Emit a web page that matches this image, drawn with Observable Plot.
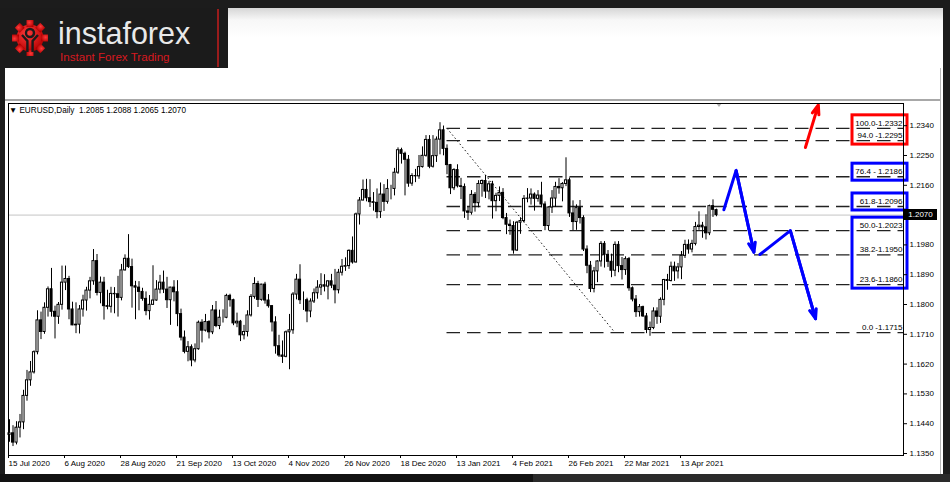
<!DOCTYPE html>
<html><head><meta charset="utf-8">
<script src="https://cdn.jsdelivr.net/npm/d3@7"></script>
<script src="https://cdn.jsdelivr.net/npm/@observablehq/plot@0.6"></script>
<style>
html,body{margin:0;padding:0;}
body{width:950px;height:482px;background:#1c1c1c;position:relative;overflow:hidden;font-family:"Liberation Sans",Arial,sans-serif;}
.abs{position:absolute;}
</style></head><body>
<div class="abs" style="left:0;top:8px;width:228px;height:60px;background:#1b1b1b"></div>
<div class="abs" style="left:217px;top:9px;width:2px;height:58px;background:#9a1c1c"></div>
<div class="abs" style="left:228px;top:8px;width:715px;height:60px;background:linear-gradient(#d6d6d6 0px,#f7f7f7 12px,#fff 30px)"></div>
<div class="abs" style="left:5px;top:68px;width:938px;height:406px;background:#fff"></div>
<div class="abs" style="left:940px;top:68px;width:1px;height:406px;background:#b8b8b8"></div>
<div class="abs" style="left:5px;top:99px;width:935px;height:2px;background:#a8a8a8"></div>
<div class="abs" style="left:0;top:474px;width:533px;height:8px;background:#121212"></div>
<div class="abs" style="left:533px;top:474px;width:417px;height:8px;background:#2a2a2a"></div>
<svg class="abs" style="left:10px;top:18px" width="40" height="40" viewBox="-20 -20 40 40">
  <defs><radialGradient id="gg" cx="40%" cy="35%" r="70%"><stop offset="0" stop-color="#ff3a3a"/><stop offset="1" stop-color="#b10000"/></radialGradient></defs>
  <g fill="url(#gg)">
    <circle r="13.5"/>
    <rect x="-3.5" y="-18" width="7" height="7"/>
    <rect x="-3.5" y="-18" width="7" height="7" transform="rotate(45)"/>
    <rect x="-3.5" y="-18" width="7" height="7" transform="rotate(90)"/>
    <rect x="-3.5" y="-18" width="7" height="7" transform="rotate(135)"/>
    <rect x="-3.5" y="-18" width="7" height="7" transform="rotate(180)"/>
    <rect x="-3.5" y="-18" width="7" height="7" transform="rotate(225)"/>
    <rect x="-3.5" y="-18" width="7" height="7" transform="rotate(270)"/>
    <rect x="-3.5" y="-18" width="7" height="7" transform="rotate(315)"/>
  </g>
  <circle cy="-5" r="4" fill="none" stroke="#1b1b1b" stroke-width="2.4"/>
  <path d="M-8,-3 L-2.6,3 L-2.6,14 M8,-3 L2.6,3 L2.6,14" stroke="#1b1b1b" stroke-width="2.4" fill="none"/>
</svg>
<svg class="abs" style="left:0;top:8px" width="215" height="60">
  <text x="58" y="36" fill="#e9e9e9" font-family="Liberation Sans, Arial, sans-serif" font-size="30.5">instaforex</text>
  <text x="60" y="53" fill="#d71920" font-family="Liberation Sans, Arial, sans-serif" font-size="11.6">Instant Forex Trading</text>
</svg>
<div class="abs" style="left:716px;top:103px;width:0;height:0;border-left:3px solid transparent;border-right:3px solid transparent;border-top:4px solid #b0b0b0"></div>
<div id="title" class="abs" style="left:9px;top:106px;font-size:8.2px;color:#000;white-space:pre;line-height:10px"></div>
<div id="chart"></div>
<div id="tag" class="abs" style="left:904px;width:33px;height:11px;background:#000;color:#fff;font-size:8px;line-height:11px;text-align:center"></div>
<script>
// ---------- data ----------
const dates = [
"2020-07-15","2020-07-16","2020-07-17","2020-07-20","2020-07-21","2020-07-22","2020-07-23","2020-07-24","2020-07-27","2020-07-28","2020-07-29","2020-07-30","2020-07-31",
"2020-08-03","2020-08-04","2020-08-05","2020-08-06","2020-08-07","2020-08-10","2020-08-11","2020-08-12","2020-08-13","2020-08-14","2020-08-17","2020-08-18","2020-08-19","2020-08-20","2020-08-21","2020-08-24","2020-08-25","2020-08-26","2020-08-27","2020-08-28","2020-08-31",
"2020-09-01","2020-09-02","2020-09-03","2020-09-04","2020-09-07","2020-09-08","2020-09-09","2020-09-10","2020-09-11","2020-09-14","2020-09-15","2020-09-16","2020-09-17","2020-09-18","2020-09-21","2020-09-22","2020-09-23","2020-09-24","2020-09-25","2020-09-28","2020-09-29","2020-09-30",
"2020-10-01","2020-10-02","2020-10-05","2020-10-06","2020-10-07","2020-10-08","2020-10-09","2020-10-12","2020-10-13","2020-10-14","2020-10-15","2020-10-16","2020-10-19","2020-10-20","2020-10-21","2020-10-22","2020-10-23","2020-10-26","2020-10-27","2020-10-28","2020-10-29","2020-10-30",
"2020-11-02","2020-11-03","2020-11-04","2020-11-05","2020-11-06","2020-11-09","2020-11-10","2020-11-11","2020-11-12","2020-11-13","2020-11-16","2020-11-17","2020-11-18","2020-11-19","2020-11-20","2020-11-23","2020-11-24","2020-11-25","2020-11-26","2020-11-27","2020-11-30",
"2020-12-01","2020-12-02","2020-12-03","2020-12-04","2020-12-07","2020-12-08","2020-12-09","2020-12-10","2020-12-11","2020-12-14","2020-12-15","2020-12-16","2020-12-17","2020-12-18","2020-12-21","2020-12-22","2020-12-23","2020-12-24","2020-12-28","2020-12-29","2020-12-30","2020-12-31",
"2021-01-04","2021-01-05","2021-01-06","2021-01-07","2021-01-08","2021-01-11","2021-01-12","2021-01-13","2021-01-14","2021-01-15","2021-01-18","2021-01-19","2021-01-20","2021-01-21","2021-01-22","2021-01-25","2021-01-26","2021-01-27","2021-01-28","2021-01-29",
"2021-02-01","2021-02-02","2021-02-03","2021-02-04","2021-02-05","2021-02-08","2021-02-09","2021-02-10","2021-02-11","2021-02-12","2021-02-15","2021-02-16","2021-02-17","2021-02-18","2021-02-19","2021-02-22","2021-02-23","2021-02-24","2021-02-25","2021-02-26",
"2021-03-01","2021-03-02","2021-03-03","2021-03-04","2021-03-05","2021-03-08","2021-03-09","2021-03-10","2021-03-11","2021-03-12","2021-03-15","2021-03-16","2021-03-17","2021-03-18","2021-03-19","2021-03-22","2021-03-23","2021-03-24","2021-03-25","2021-03-26","2021-03-29","2021-03-30","2021-03-31",
"2021-04-01","2021-04-02","2021-04-05","2021-04-06","2021-04-07","2021-04-08","2021-04-09","2021-04-12","2021-04-13","2021-04-14","2021-04-15","2021-04-16","2021-04-19","2021-04-20","2021-04-21","2021-04-22","2021-04-23","2021-04-26","2021-04-27"
];
const opens = [
1.1406,1.1411,1.1383,1.1428,1.1444,1.1524,1.1571,1.1595,1.1656,1.1752,1.1717,1.1790,1.1846,
1.1778,1.1763,1.1799,1.1866,1.1877,1.1785,1.1737,1.1739,1.1785,1.1812,1.1842,1.1870,1.1931,1.1835,1.1866,1.1795,1.1793,1.1832,1.1831,1.1820,1.1903,
1.1938,1.1913,1.1855,1.1851,1.1838,1.1817,1.1780,1.1799,1.1812,1.1845,1.1866,1.1845,1.1813,1.1851,1.1837,1.1771,1.1700,1.1657,1.1671,1.1631,1.1665,1.1745,
1.1721,1.1747,1.1716,1.1782,1.1735,1.1760,1.1760,1.1826,1.1813,1.1743,1.1748,1.1707,1.1717,1.1767,1.1823,1.1862,1.1814,1.1860,1.1812,1.1795,1.1746,1.1674,
1.1646,1.1642,1.1716,1.1722,1.1830,1.1875,1.1813,1.1813,1.1779,1.1809,1.1834,1.1851,1.1858,1.1854,1.1870,1.1857,1.1843,1.1896,1.1914,1.1916,1.1962,
1.1927,1.2072,1.2114,1.2146,1.2121,1.2109,1.2107,1.2079,1.2132,1.2110,1.2149,1.2149,1.2198,1.2266,1.2255,1.2237,1.2165,1.2188,1.2187,1.2215,1.2249,1.2297,
1.2216,1.2248,1.2298,1.2326,1.2270,1.2221,1.2151,1.2206,1.2157,1.2155,1.2081,1.2077,1.2131,1.2106,1.2164,1.2173,1.2141,1.2163,1.2112,1.2128,
1.2137,1.2061,1.2041,1.2037,1.1963,1.2047,1.2052,1.2119,1.2120,1.2132,1.2119,1.2129,1.2102,1.2037,1.2093,1.2120,1.2155,1.2151,1.2164,1.2175,
1.2075,1.2049,1.2091,1.2061,1.1966,1.1917,1.1847,1.1900,1.1930,1.1983,1.1950,1.1929,1.1902,1.1980,1.1916,1.1904,1.1937,1.1849,1.1815,1.1777,1.1792,1.1764,1.1723,
1.1729,1.1779,1.1763,1.1814,1.1874,1.1871,1.1914,1.1900,1.1912,1.1947,1.1980,1.1966,1.1983,1.2034,1.2038,1.2033,1.2015,1.2097,1.2085
];
const highs = [
1.1452,1.1434,1.1446,1.1468,1.1541,1.1601,1.1628,1.1660,1.1781,1.1777,1.1805,1.1853,1.1909,
1.1795,1.1806,1.1916,1.1916,1.1885,1.1807,1.1805,1.1797,1.1828,1.1852,1.1882,1.1966,1.1951,1.1883,1.1882,1.1843,1.1852,1.1851,1.1885,1.1921,1.1950,
1.2011,1.1937,1.1870,1.1869,1.1849,1.1838,1.1827,1.1917,1.1872,1.1888,1.1901,1.1882,1.1852,1.1872,1.1872,1.1786,1.1720,1.1688,1.1678,1.1681,1.1750,1.1754,
1.1770,1.1751,1.1797,1.1809,1.1783,1.1784,1.1831,1.1831,1.1816,1.1774,1.1752,1.1737,1.1781,1.1830,1.1881,1.1870,1.1861,1.1867,1.1830,1.1797,1.1763,1.1707,
1.1690,1.1720,1.1770,1.1836,1.1891,1.1920,1.1838,1.1819,1.1817,1.1847,1.1872,1.1893,1.1890,1.1871,1.1891,1.1906,1.1906,1.1936,1.1941,1.1965,1.2004,
1.2076,1.2123,1.2176,1.2178,1.2177,1.2138,1.2149,1.2167,1.2162,1.2177,1.2160,1.2211,1.2273,1.2272,1.2260,1.2250,1.2195,1.2208,1.2250,1.2276,1.2310,1.2310,
1.2310,1.2306,1.2349,1.2339,1.2282,1.2223,1.2210,1.2222,1.2181,1.2164,1.2094,1.2144,1.2138,1.2174,1.2176,1.2190,1.2172,1.2172,1.2136,1.2155,
1.2150,1.2075,1.2055,1.2050,1.2051,1.2062,1.2129,1.2150,1.2149,1.2137,1.2144,1.2169,1.2110,1.2095,1.2144,1.2169,1.2180,1.2168,1.2243,1.2182,
1.2113,1.2101,1.2114,1.2068,1.1977,1.1930,1.1912,1.1932,1.1990,1.1990,1.1963,1.1952,1.1989,1.1990,1.1942,1.1944,1.1942,1.1853,1.1827,1.1800,1.1795,1.1773,1.1747,
1.1790,1.1790,1.1820,1.1876,1.1891,1.1928,1.1928,1.1924,1.1960,1.1994,1.1995,1.1994,1.2048,1.2080,1.2048,1.2071,1.2100,1.2116,1.2088
];
const lows = [
1.1384,1.1371,1.1376,1.1397,1.1422,1.1508,1.1553,1.1590,1.1648,1.1694,1.1710,1.1762,1.1762,
1.1696,1.1740,1.1783,1.1842,1.1754,1.1736,1.1712,1.1711,1.1762,1.1780,1.1817,1.1858,1.1826,1.1802,1.1753,1.1784,1.1774,1.1772,1.1762,1.1811,1.1901,
1.1909,1.1789,1.1754,1.1781,1.1810,1.1766,1.1753,1.1798,1.1810,1.1832,1.1833,1.1788,1.1737,1.1808,1.1733,1.1690,1.1651,1.1627,1.1612,1.1624,1.1662,1.1684,
1.1717,1.1696,1.1709,1.1730,1.1724,1.1744,1.1757,1.1792,1.1736,1.1730,1.1688,1.1693,1.1702,1.1762,1.1816,1.1791,1.1810,1.1801,1.1789,1.1717,1.1650,1.1640,
1.1622,1.1639,1.1603,1.1710,1.1814,1.1800,1.1782,1.1745,1.1760,1.1803,1.1816,1.1827,1.1838,1.1814,1.1848,1.1802,1.1832,1.1886,1.1900,1.1906,1.1922,
1.1925,1.2040,1.2113,1.2110,1.2093,1.2082,1.2059,1.2060,1.2081,1.2103,1.2116,1.2128,1.2193,1.2224,1.2128,1.2154,1.2157,1.2168,1.2178,1.2212,1.2245,1.2210,
1.2212,1.2229,1.2252,1.2249,1.2192,1.2132,1.2144,1.2152,1.2117,1.2060,1.2054,1.2070,1.2079,1.2092,1.2124,1.2120,1.2116,1.2058,1.2080,1.2111,
1.2056,1.2011,1.2009,1.1952,1.1960,1.2012,1.2046,1.2107,1.2100,1.2082,1.2109,1.2092,1.2023,1.2022,1.2075,1.2093,1.2133,1.2110,1.2156,1.2063,
1.2023,1.2024,1.2043,1.1960,1.1893,1.1836,1.1835,1.1866,1.1913,1.1910,1.1912,1.1881,1.1884,1.1896,1.1874,1.1888,1.1840,1.1808,1.1761,1.1762,1.1761,1.1712,1.1704,
1.1724,1.1740,1.1743,1.1796,1.1843,1.1868,1.1870,1.1877,1.1875,1.1939,1.1952,1.1956,1.1977,1.2024,1.2000,1.1995,1.2008,1.2063,1.2065
];
const closes = [
1.1411,1.1383,1.1428,1.1444,1.1524,1.1571,1.1595,1.1656,1.1752,1.1717,1.1790,1.1846,1.1778,
1.1763,1.1799,1.1866,1.1877,1.1785,1.1737,1.1739,1.1785,1.1812,1.1842,1.1870,1.1931,1.1835,1.1866,1.1795,1.1793,1.1832,1.1831,1.1820,1.1903,1.1938,
1.1913,1.1855,1.1851,1.1838,1.1817,1.1780,1.1799,1.1812,1.1845,1.1866,1.1845,1.1813,1.1851,1.1837,1.1771,1.1700,1.1657,1.1671,1.1631,1.1665,1.1745,1.1721,
1.1747,1.1716,1.1782,1.1735,1.1760,1.1760,1.1826,1.1813,1.1743,1.1748,1.1707,1.1717,1.1767,1.1823,1.1862,1.1814,1.1860,1.1812,1.1795,1.1746,1.1674,1.1646,
1.1642,1.1716,1.1722,1.1830,1.1875,1.1813,1.1813,1.1779,1.1809,1.1834,1.1851,1.1858,1.1854,1.1870,1.1857,1.1843,1.1896,1.1914,1.1916,1.1962,1.1927,
1.2072,1.2114,1.2146,1.2121,1.2109,1.2107,1.2079,1.2132,1.2110,1.2149,1.2149,1.2198,1.2266,1.2255,1.2237,1.2165,1.2188,1.2187,1.2215,1.2249,1.2297,1.2216,
1.2248,1.2298,1.2326,1.2270,1.2221,1.2151,1.2206,1.2157,1.2155,1.2081,1.2077,1.2131,1.2106,1.2164,1.2173,1.2141,1.2163,1.2112,1.2128,1.2137,
1.2061,1.2041,1.2037,1.1963,1.2047,1.2052,1.2119,1.2120,1.2132,1.2119,1.2129,1.2102,1.2037,1.2093,1.2120,1.2155,1.2151,1.2164,1.2175,1.2075,
1.2049,1.2091,1.2061,1.1966,1.1917,1.1847,1.1900,1.1930,1.1983,1.1950,1.1929,1.1902,1.1980,1.1916,1.1904,1.1937,1.1849,1.1815,1.1777,1.1792,1.1764,1.1723,1.1729,
1.1779,1.1763,1.1814,1.1874,1.1871,1.1914,1.1900,1.1912,1.1947,1.1980,1.1966,1.1983,1.2034,1.2038,1.2033,1.2015,1.2097,1.2086,1.2070
];
const symbolName = "EURUSD,Daily";
const xTickDates = ["2020-07-15","2020-08-06","2020-08-28","2020-09-21","2020-10-13","2020-11-04","2020-11-26","2020-12-18","2021-01-13","2021-02-04","2021-02-26","2021-03-22","2021-04-13"];
const yTicks = [1.1350,1.1440,1.1530,1.1620,1.1710,1.1800,1.1890,1.1980,1.2070,1.2160,1.2250,1.2340];
const visibleBars = [-0.29, 255.43];
const priceRange = [1.1344, 1.2407];
// Fibonacci retracement
const fibLabels = ["100.0-1.2332","94.0 -1.2295","76.4 - 1.2186","61.8-1.2096","50.0-1.2023","38.2-1.1950","23.6-1.1860","0.0 -1.1715"];
const fibPrices = [1.2332,1.2295,1.2186,1.2096,1.2023,1.1950,1.1860,1.1715];
const fibAnchorDates = ["2021-01-08","2021-03-17"];
const highlightGroups = [[0,1],[2],[3],[4,5,6]];
const highlightColors = ["#ff0000","#0000ff","#0000ff","#0000ff"];
// forecast paths (bar position, price)
const waveABar = [204.1, 207.6, 212.7];
const waveAPrice = [1.2086, 1.2205, 1.1958];
const waveBBar = [214.4, 223.1, 230.3];
const waveBPrice = [1.1951, 1.2023, 1.1757];
const upBar = [227.4, 231.1];
const upPrice = [1.2274, 1.2403];

// ---------- build ----------
const bars = dates.map((d, i) => ({i, o: opens[i], h: highs[i], l: lows[i], c: closes[i]}));
const last = bars[bars.length - 1];
const idxOf = d => dates.indexOf(d);
const fmt = d3.utcFormat("%-d %b %Y");
const xTicks = xTickDates.map(idxOf);
const fibStart = idxOf(fibAnchorDates[0]);
const fibEnd = idxOf(fibAnchorDates[1]);
const fib = fibPrices.map((p, k) => ({p, label: fibLabels[k]}));
const boxes = highlightGroups.map((g, k) => ({top: fibPrices[g[0]], bottom: fibPrices[g[g.length - 1]], color: highlightColors[k]}));
const pts = (b, p) => b.map((x, k) => ({x, y: p[k]}));
const lastSeg = (b, p) => [{x1: b[b.length - 2], y1: p[p.length - 2], x2: b[b.length - 1], y2: p[p.length - 1]}];
const xMax = visibleBars[1];

document.getElementById("title").textContent =
  "\u25BC " + symbolName + "  " + [last.o, last.h, last.l, last.c].map(v => v.toFixed(4)).join(" ");

const arrowOpts = {x1: "x1", y1: "y1", x2: "x2", y2: "y2", strokeWidth: 3, headLength: 5, headAngle: 40};

const chart = Plot.plot({
  width: 950, height: 482,
  marginLeft: 8, marginRight: 47, marginTop: 103, marginBottom: 27,
  style: {position: "absolute", left: "0px", top: "0px", background: "transparent",
          fontFamily: "Liberation Sans, Arial, sans-serif", fontSize: "8px", color: "#000", overflow: "visible"},
  x: {type: "linear", domain: visibleBars, axis: null},
  y: {type: "linear", domain: priceRange, axis: null},
  marks: [
    Plot.ruleY([last.c], {stroke: "#c4c4c4", strokeWidth: 1}),
    Plot.ruleY(fib, {y: "p", x1: () => fibStart, x2: () => xMax, stroke: "#222", strokeWidth: 1.4, strokeDasharray: "13.5,7"}),
    Plot.link([0], {x1: () => fibStart, y1: () => fibPrices[0], x2: () => fibEnd, y2: () => fibPrices[fibPrices.length - 1],
                    stroke: "#222", strokeWidth: 1, strokeDasharray: "1.6,2.4"}),
    Plot.ruleX(bars, {x: "i", y1: "l", y2: "h", stroke: "#000", strokeWidth: 1}),
    Plot.rect(bars.filter(d => d.c >= d.o), {x1: d => d.i - 0.3, x2: d => d.i + 0.3, y1: "o", y2: "c", fill: "#fff", stroke: "#000", strokeWidth: 1}),
    Plot.rect(bars.filter(d => d.c < d.o), {x1: d => d.i - 0.3, x2: d => d.i + 0.3, y1: "o", y2: "c", fill: "#000", stroke: "#000", strokeWidth: 1}),
    Plot.text(fib, {x: () => xMax, y: "p", text: "label", textAnchor: "end", dx: -1, dy: -5, fill: "#000", fontSize: 8}),
    Plot.rect(boxes, {x1: () => xMax, x2: () => xMax, y1: "top", y2: "bottom", stroke: "color", fill: "none", strokeWidth: 3,
                      insetLeft: -51, insetRight: -4, insetTop: -13, insetBottom: -4}),
    Plot.line(pts(waveABar, waveAPrice), {x: "x", y: "y", stroke: "#0000ff", strokeWidth: 3, strokeLinejoin: "miter"}),
    Plot.arrow(lastSeg(waveABar, waveAPrice), {...arrowOpts, stroke: "#0000ff"}),
    Plot.line(pts(waveBBar, waveBPrice), {x: "x", y: "y", stroke: "#0000ff", strokeWidth: 3, strokeLinejoin: "miter"}),
    Plot.arrow(lastSeg(waveBBar, waveBPrice), {...arrowOpts, stroke: "#0000ff"}),
    Plot.arrow(lastSeg(upBar, upPrice), {...arrowOpts, stroke: "#ff0000"}),
    Plot.frame({stroke: "#000"}),
    Plot.axisY({anchor: "right", ticks: yTicks, tickFormat: d => d.toFixed(4), tickSize: 3, tickPadding: 3, fontSize: 8}),
    Plot.axisX({anchor: "bottom", ticks: xTicks, tickFormat: i => fmt(new Date(dates[i])), textAnchor: "start", dx: -1,
                tickSize: 3, tickPadding: 2, fontSize: 8})
  ]
});
document.getElementById("chart").appendChild(chart);
const tagY = chart.scale("y").apply(last.c);
const tag = document.getElementById("tag");
tag.style.top = (tagY - 5.5) + "px";
tag.textContent = last.c.toFixed(4);
</script>
</body></html>
